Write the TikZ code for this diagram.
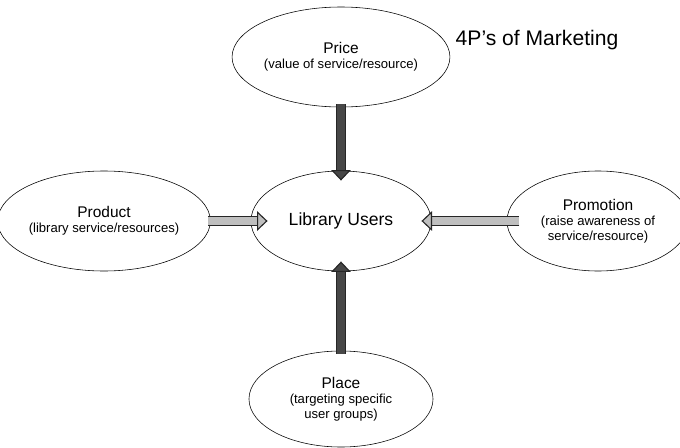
\documentclass[tikz,border=0pt]{standalone}
\usepackage{fontspec}
\setmainfont{Liberation Sans}
\usetikzlibrary{shapes.geometric,arrows.meta}

\tikzset{
  pnode/.style={ellipse, draw, thin, align=center, inner sep=0pt},
  blockarrow/.style={draw=black!85, line width=0.8pt, double=#1, double distance=5.4pt,
    -{Triangle[length=7.5pt,width=14pt,fill=#1]}, shorten >=-7pt, shorten <=-2pt},
}
\newcommand{\hd}[1]{{\fontsize{11}{12}\selectfont #1}}
\newcommand{\sub}[1]{{\fontsize{9.3}{10.5}\selectfont #1}}

\begin{document}
\begin{tikzpicture}[x=0.025cm,y=-0.025cm]
\useasboundingbox (0,0) rectangle (680,448);
\node[pnode, minimum width=4.75cm, minimum height=2.5cm] (price) at (341,57)
  {\hd{Price}\\[-1pt]\sub{(value of service/resource)}};
\node[pnode, minimum width=4.5cm, minimum height=2.5cm] (users) at (341,221)
  {\fontsize{12.5}{14}\selectfont Library Users};
\node[pnode, minimum width=4.6cm, minimum height=2.5cm] (product) at (104,221)
  {\hd{Product}\\[-1pt]\sub{(library service/resources)}};
\node[pnode, minimum width=4.55cm, minimum height=2.5cm] (promo) at (598,221)
  {\hd{Promotion}\\[-1pt]\sub{(raise awareness of}\\[-2pt]\sub{service/resource)}};
\node[pnode, minimum width=4.6cm, minimum height=2.4cm] (place) at (341,399)
  {\hd{Place}\\[-1pt]\sub{(targeting specific}\\[-2pt]\sub{user groups)}};
\node[font=\fontsize{15}{17}\selectfont] (title) at (537,40) {4P's of Marketing};
% arrows into the centre
\draw[blockarrow=black!72] (price.south) -- (users.north);
\draw[blockarrow=black!72] (place.north) -- (users.south);
\draw[blockarrow=gray!50, shorten >=-12pt] (product.east) -- (users.west);
\draw[blockarrow=gray!50, shorten <=-9pt] (promo.west) -- (users.east);
\end{tikzpicture}
\end{document}
